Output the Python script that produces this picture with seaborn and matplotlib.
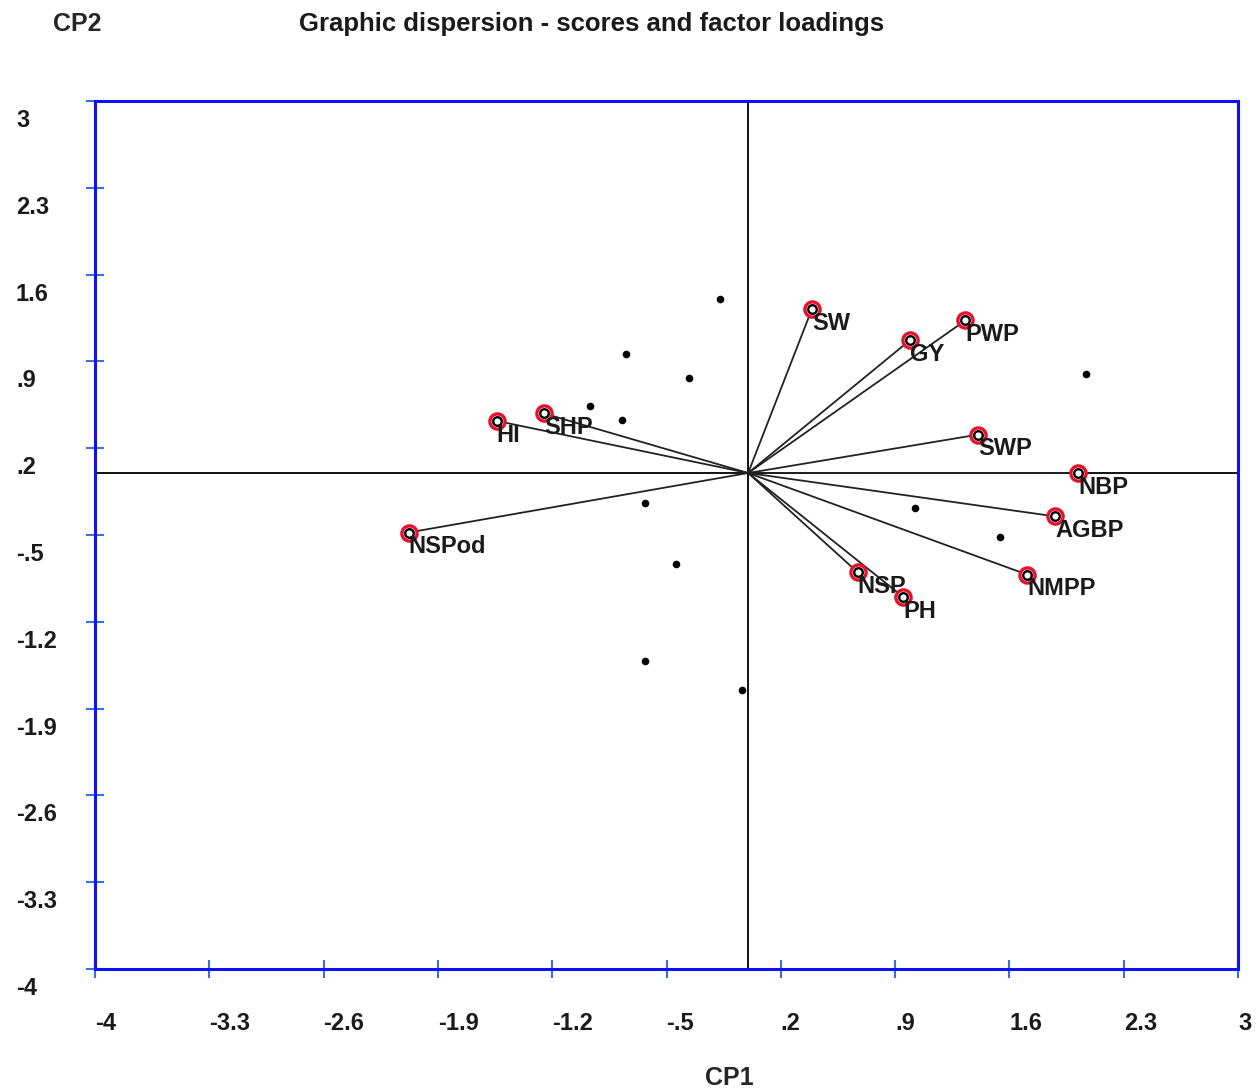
import numpy as np
import pandas as pd
import matplotlib
matplotlib.use('Agg')
import matplotlib.pyplot as plt
import matplotlib.transforms as mtransforms
import seaborn as sns

# factor loadings (variables)
var_names = ['SW', 'GY', 'PWP', 'SWP', 'NBP', 'AGBP', 'NMPP', 'NSP', 'PH', 'NSPod', 'HI', 'SHP']
load_cp1 = [0.39, 0.99, 1.33, 1.41, 2.02, 1.88, 1.71, 0.67, 0.95, -2.08, -1.54, -1.25]
load_cp2 = [1.32, 1.07, 1.23, 0.31, 0.00, -0.35, -0.82, -0.80, -1.00, -0.48, 0.42, 0.48]

# scores (individuals)
score_cp1 = [-0.17, -0.75, -0.36, -0.97, -0.77, 2.07, -0.63, 1.02, 1.54, -0.44, -0.63, -0.04]
score_cp2 = [1.40, 0.96, 0.77, 0.54, 0.43, 0.80, -0.24, -0.28, -0.52, -0.73, -1.52, -1.75]

ticks = [-4, -3.3, -2.6, -1.9, -1.2, -0.5, 0.2, 0.9, 1.6, 2.3, 3]
tick_labels = ['-4', '-3.3', '-2.6', '-1.9', '-1.2', '-.5', '.2', '.9', '1.6', '2.3', '3']

sns.set_style('white')
plt.rcParams['font.family'] = ['Liberation Sans', 'DejaVu Sans']
plt.rcParams['font.weight'] = 'bold'

loadings = pd.DataFrame({'name': var_names, 'CP1': load_cp1, 'CP2': load_cp2})
scores = pd.DataFrame({'CP1': score_cp1, 'CP2': score_cp2})

fig = plt.figure(figsize=(12.56, 10.89), dpi=100)
ax = fig.add_axes([95 / 1256, 1 - 969 / 1089, (1238 - 95) / 1256, (969 - 101) / 1089])

ax.axhline(0, color='black', lw=1.3, zorder=1)
ax.axvline(0, color='black', lw=1.3, zorder=1)

# vectors from origin to loadings
for _, r in loadings.iterrows():
    ax.plot([0, r['CP1']], [0, r['CP2']], color='#222222', lw=1.3, zorder=2)

sns.scatterplot(data=scores, x='CP1', y='CP2', ax=ax, color='black', s=30,
                edgecolor='black', linewidth=0, zorder=3)
sns.scatterplot(data=loadings, x='CP1', y='CP2', ax=ax, color='white', s=120,
                edgecolor='#e8102a', linewidth=2.4, zorder=4)
sns.scatterplot(data=loadings, x='CP1', y='CP2', ax=ax, color='white', s=38,
                edgecolor='black', linewidth=1.7, zorder=5)

for _, r in loadings.iterrows():
    ax.annotate(r['name'], (r['CP1'], r['CP2']), xytext=(0, -2), textcoords='offset points',
                ha='left', va='top', fontsize=17, fontweight='bold', color='#1a1a1a', zorder=6)

ax.set_xlim(-4, 3)
ax.set_ylim(-4, 3)
ax.set_xticks(ticks)
ax.set_yticks(ticks)
ax.set_xticklabels(tick_labels)
ax.set_yticklabels(tick_labels)
ax.set_xlabel('')
ax.set_ylabel('')

for side in ['left', 'right', 'top', 'bottom']:
    ax.spines[side].set_visible(True)
    ax.spines[side].set_color('#1010ff')
    ax.spines[side].set_linewidth(2.2)

ax.tick_params(axis='both', direction='inout', length=13, width=1.5, color='#3a6fe0',
               labelsize=17, labelcolor='#1a1a1a')
ax.tick_params(axis='x', bottom=True, top=False, pad=0)
ax.tick_params(axis='y', left=True, right=False, pad=0)

# tick labels: left aligned, shifted like the original
xoff = mtransforms.ScaledTranslation(0 / 100, -34 / 100, fig.dpi_scale_trans)
for lab in ax.get_xticklabels():
    lab.set_horizontalalignment('left')
    lab.set_fontweight('bold')
    lab.set_transform(lab.get_transform() + xoff)
yoff = mtransforms.ScaledTranslation(-70 / 100, -17 / 100, fig.dpi_scale_trans)
for lab in ax.get_yticklabels():
    lab.set_horizontalalignment('left')
    lab.set_fontweight('bold')
    lab.set_transform(lab.get_transform() + yoff)

fig.text(77 / 1256, 1 - 24 / 1089, 'CP2', ha='center', va='center', fontsize=18, fontweight='bold')
fig.text(592 / 1256, 1 - 24 / 1089, 'Graphic dispersion - scores and factor loadings',
         ha='center', va='center', fontsize=18.5, fontweight='bold', color='#1a1a1a')
fig.text(729 / 1256, 1 - 1078 / 1089, 'CP1', ha='center', va='center', fontsize=18, fontweight='bold')

fig.savefig('out.png', dpi=100)
